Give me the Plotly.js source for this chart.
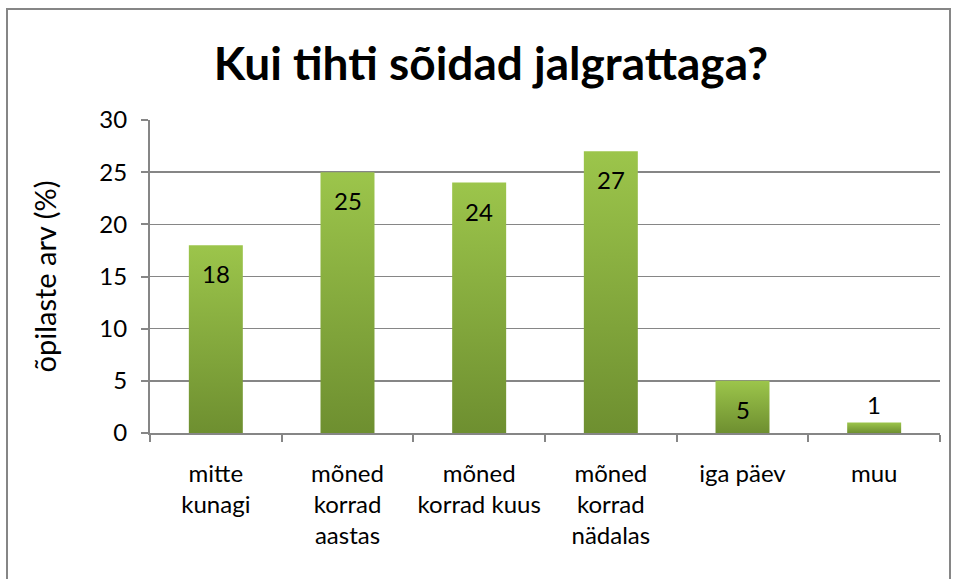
<!DOCTYPE html>
<html><head><meta charset="utf-8">
<script src="https://cdn.plot.ly/plotly-3.0.1.min.js"></script>
<style>body{margin:0;background:#fff}#c{width:957px;height:579px}</style>
</head><body><div id="c"></div>
<script>
const categories = ["mitte<br>kunagi","mõned<br>korrad<br>aastas","mõned<br>korrad kuus","mõned<br>korrad<br>nädalas","iga päev","muu"];
const values = [18,25,24,27,5,1];
const titleText = "Kui tihti sõidad jalgrattaga?";
const yTitle = "õpilaste arv (%)";
const yTicks = [0,5,10,15,20,25,30];

const FONT = "Lato, 'Open Sans', sans-serif";
const annotations = values.map((v,i)=>({
  x: categories[i], y: v, xref:'x', yref:'y', text: String(v), showarrow:false,
  yanchor: v >= 3 ? 'top' : 'bottom', yshift: v >= 3 ? -12 : 2,
  font:{family:FONT,size:24,color:'#000'}
}));

const trace = {type:'bar', x:categories, y:values, width:0.41,
  marker:{color:'#86ad3e', line:{width:0}}, hoverinfo:'none'};

const layout = {
  width:957, height:579, margin:{l:150,r:17,t:120,b:146},
  paper_bgcolor:'#fff', plot_bgcolor:'#fff', showlegend:false,
  title:{text:titleText, x:0.513, xanchor:'center', y:0.89, yanchor:'middle',
    font:{family:FONT, size:46, color:'#000', weight:'bold'}},
  xaxis:{type:'category', showgrid:false, showline:true, linecolor:'#868686', linewidth:2,
    ticks:'outside', tickson:'boundaries', ticklen:7, tickcolor:'#868686', tickwidth:2,
    ticklabelstandoff:18, tickangle:0,
    tickfont:{family:FONT,size:24,color:'#000'}, fixedrange:true},
  yaxis:{range:[0,30], tickvals:yTicks, showgrid:true, gridcolor:'#868686', gridwidth:1.5,
    showline:true, linecolor:'#868686', linewidth:2, ticks:'outside', ticklen:7,
    tickcolor:'#868686', tickwidth:2, zeroline:false, ticklabelstandoff:9,
    tickfont:{family:FONT,size:24,color:'#000'},
    title:{text:yTitle, font:{family:FONT,size:29,color:'#000'}, standoff:34}},
  annotations: annotations,
  shapes:[{type:'rect', xref:'paper', yref:'paper', x0:-143/790, x1:(950-150)/790,
    y0:-0.6, y1:(433-9)/313, line:{color:'#868686', width:2}, fillcolor:'rgba(0,0,0,0)', layer:'below'}]
};

Plotly.newPlot('c',[trace],layout,{displayModeBar:false,staticPlot:true}).then(gd=>{
  const svg = gd.querySelector('svg.main-svg');
  const ns='http://www.w3.org/2000/svg';
  let defs = svg.querySelector('defs');
  const g = document.createElementNS(ns,'linearGradient');
  g.setAttribute('id','bargrad'); g.setAttribute('x1','0'); g.setAttribute('y1','0');
  g.setAttribute('x2','0'); g.setAttribute('y2','1');
  [['0','#9cc54b'],['1','#6e8f30']].forEach(([o,c])=>{
    const s=document.createElementNS(ns,'stop'); s.setAttribute('offset',o); s.setAttribute('stop-color',c); g.appendChild(s);
  });
  defs.appendChild(g);
  gd.querySelectorAll('.bars path').forEach(p=>{p.style.fill='url(#bargrad)';});
});
</script></body></html>
